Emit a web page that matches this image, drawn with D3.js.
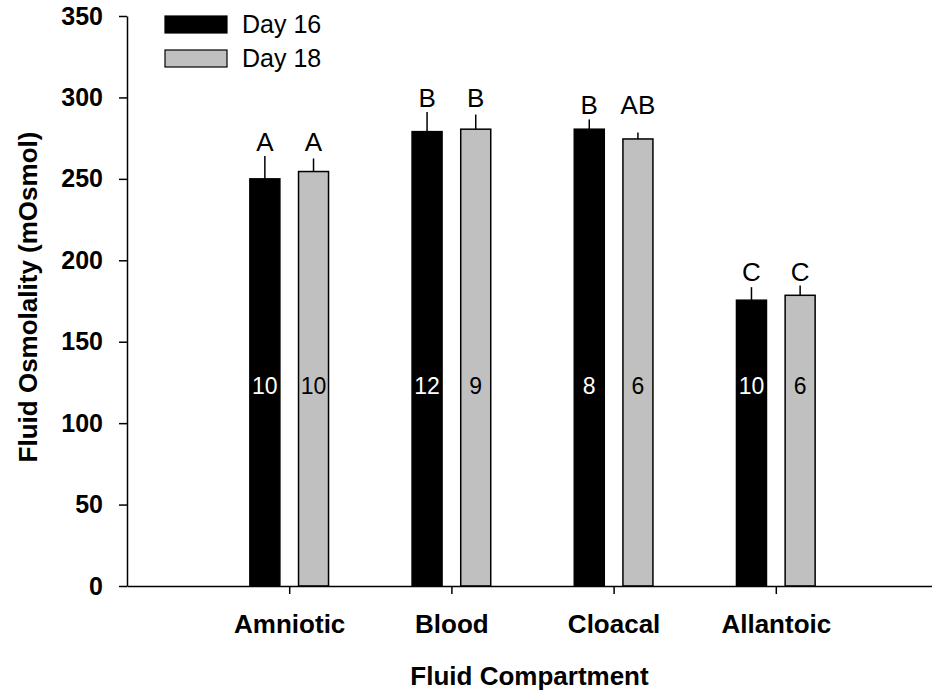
<!DOCTYPE html>
<html lang="en">
<head>
    <meta charset="UTF-8">
    <title>Fluid Osmolality</title>
    <script src="https://d3js.org/d3.v7.min.js"></script>
    <style>
        body { margin: 0; background: #fff; }
        svg { display: block; font-family: Arial, "Liberation Sans", sans-serif; }
        .axis path, .axis line { stroke: #000; stroke-width: 1.5px; }
        .axis text { font-size: 25px; font-weight: bold; fill: #000; }
        .xaxis text { font-size: 26px; }
    </style>
</head>
<body>
    <svg width="932" height="692"></svg>

    <script>
        // values
        const categories = ['Amniotic', 'Blood', 'Cloacal', 'Allantoic'];
        const seriesNames = ['Day 16', 'Day 18'];
        const day16 = [250, 279, 280.5, 175.5];
        const day16Err = [14, 12, 6, 8];
        const day18 = [254.5, 280.5, 274.5, 178.5];
        const day18Err = [8, 9, 4, 6];
        const day16Letters = ['A', 'B', 'B', 'C'];
        const day18Letters = ['A', 'B', 'AB', 'C'];
        const day16N = [10, 12, 8, 10];
        const day18N = [10, 9, 6, 6];
        const yTicks = [0, 50, 100, 150, 200, 250, 300, 350];

        const colors = ['#000000', '#c0c0c0'];
        const textColors = ['#ffffff', '#000000'];

        const svg = d3.select('svg');

        // plot frame
        const plotLeft = 127, plotRight = 938, plotTop = 16, plotBottom = 586;

        const x = d3.scaleLinear().domain([0, 5]).range([plotLeft, plotRight]);
        const y = d3.scaleLinear().domain([0, 350]).range([plotBottom, plotTop]);

        const barW = 0.185;      // in category units
        const offsets = [-0.15, 0.15];

        // build a flat table for the bars
        const bars = [];
        categories.forEach((c, i) => {
            bars.push({ cat: i, s: 0, v: day16[i], err: day16Err[i], letter: day16Letters[i], n: day16N[i] });
            bars.push({ cat: i, s: 1, v: day18[i], err: day18Err[i], letter: day18Letters[i], n: day18N[i] });
        });

        const cx = d => x(d.cat + 1 + offsets[d.s]);

        // bars
        svg.selectAll('.bar')
            .data(bars)
            .enter()
            .append('rect')
            .attr('class', 'bar')
            .attr('x', d => x(d.cat + 1 + offsets[d.s] - barW / 2))
            .attr('width', d => x(barW) - x(0))
            .attr('y', d => y(d.v))
            .attr('height', d => y(0) - y(d.v))
            .attr('fill', d => colors[d.s])
            .attr('stroke', '#000')
            .attr('stroke-width', 1.5);

        // error bars (upper only)
        svg.selectAll('.err')
            .data(bars)
            .enter()
            .append('line')
            .attr('class', 'err')
            .attr('x1', cx)
            .attr('x2', cx)
            .attr('y1', d => y(d.v))
            .attr('y2', d => y(d.v + d.err))
            .attr('stroke', '#000')
            .attr('stroke-width', 1.5);

        // significance letters, aligned per category
        const groupTop = categories.map((c, i) => Math.max(day16[i] + day16Err[i], day18[i] + day18Err[i]));
        svg.selectAll('.letter')
            .data(bars)
            .enter()
            .append('text')
            .attr('class', 'letter')
            .attr('x', cx)
            .attr('y', d => y(groupTop[d.cat]) - 5)
            .attr('text-anchor', 'middle')
            .style('font-size', '26px')
            .text(d => d.letter);

        // sample sizes inside bars
        svg.selectAll('.nlabel')
            .data(bars)
            .enter()
            .append('text')
            .attr('class', 'nlabel')
            .attr('x', cx)
            .attr('y', y(120) + 3)
            .attr('text-anchor', 'middle')
            .style('font-size', '23px')
            .attr('fill', d => textColors[d.s])
            .text(d => d.n);

        // axes
        svg.append('g')
            .attr('class', 'axis')
            .attr('transform', `translate(${plotLeft},0)`)
            .call(d3.axisLeft(y).tickValues(yTicks).tickSize(8).tickSizeOuter(0).tickPadding(16));

        const xAxis = svg.append('g')
            .attr('class', 'axis xaxis')
            .attr('transform', `translate(0,${plotBottom})`)
            .call(d3.axisBottom(x).tickValues([1, 2, 3, 4]).tickSize(8).tickSizeOuter(0)
                .tickFormat(d => categories[d - 1]));
        xAxis.selectAll('text').attr('y', 29);

        // axis titles
        svg.append('text')
            .attr('x', (plotLeft + plotRight) / 2 - 3)
            .attr('y', 685)
            .attr('text-anchor', 'middle')
            .style('font-size', '26px')
            .style('font-weight', 'bold')
            .text('Fluid Compartment');

        svg.append('text')
            .attr('transform', `translate(37,${(plotTop + plotBottom) / 2 - 4}) rotate(-90)`)
            .attr('text-anchor', 'middle')
            .style('font-size', '26px')
            .style('font-weight', 'bold')
            .text('Fluid Osmolality (mOsmol)');

        // legend
        const legend = svg.selectAll('.legend')
            .data(seriesNames)
            .enter()
            .append('g')
            .attr('class', 'legend')
            .attr('transform', (_, i) => `translate(165, ${16 + i * 34})`);

        legend.append('rect')
            .attr('width', 62)
            .attr('height', 17)
            .attr('fill', (d, i) => colors[i])
            .attr('stroke', '#000')
            .attr('stroke-width', 1.2);

        legend.append('text')
            .attr('x', 77)
            .attr('y', 17)
            .style('font-size', '25px')
            .text(d => d);
    </script>
</body>
</html>
